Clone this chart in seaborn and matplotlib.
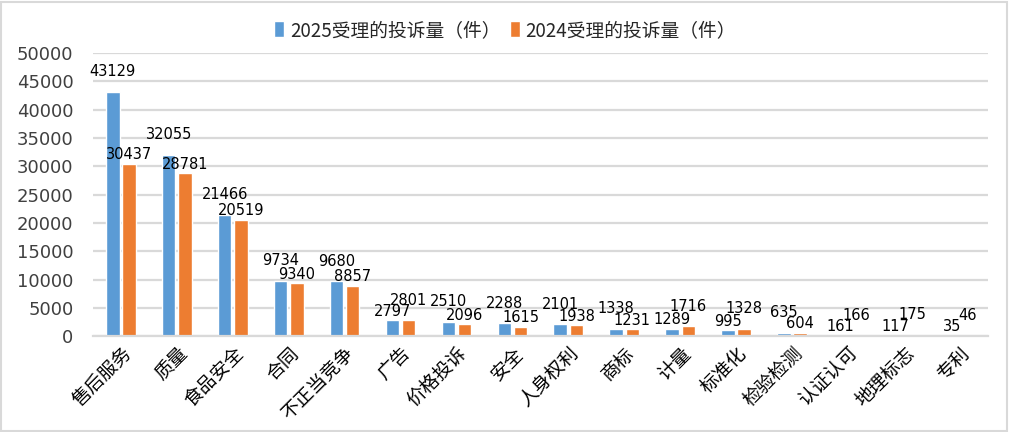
import pandas as pd
import matplotlib.pyplot as plt
import matplotlib.patches as mpatches
import seaborn as sns

# data
CATEGORIES = ['售后服务', '质量', '食品安全', '合同', '不正当竞争', '广告', '价格投诉', '安全',
              '人身权利', '商标', '计量', '标准化', '检验检测', '认证认可', '地理标志', '专利']
COUNT_2025 = [43129, 32055, 21466, 9734, 9680, 2797, 2510, 2288,
              2101, 1338, 1289, 995, 635, 161, 117, 35]
COUNT_2024 = [30437, 28781, 20519, 9340, 8857, 2801, 2096, 1615,
              1938, 1231, 1716, 1328, 604, 166, 175, 46]
SERIES = ['2025受理的投诉量（件）', '2024受理的投诉量（件）']
Y_TICKS = list(range(0, 50001, 5000))

COLORS = ['#5B9BD5', '#ED7D31']
GRID = '#D9D9D9'
CJK = ['Noto Sans CJK SC', 'DejaVu Sans']

sns.set_theme(style='white')
plt.rcParams['font.family'] = ['DejaVu Sans', 'Noto Sans CJK SC']

df = pd.DataFrame({
    'category': CATEGORIES * 2,
    'value': COUNT_2025 + COUNT_2024,
    'series': [SERIES[0]] * len(CATEGORIES) + [SERIES[1]] * len(CATEGORIES),
})

fig = plt.figure(figsize=(10.1, 4.32), dpi=100)
ax = fig.add_axes([0.092, 0.222, 0.886, 0.655])

sns.barplot(data=df, x='category', y='value', hue='series', palette=COLORS,
            width=0.58, gap=0.17, saturation=1, ax=ax, legend=True)

ax.set_xlim(-0.5, len(CATEGORIES) - 0.5)
ax.set_ylim(0, 50000)
ax.set_yticks(Y_TICKS)
ax.set_yticklabels([str(t) for t in Y_TICKS], fontsize=13, color='#404040')
ax.tick_params(axis='y', length=0, pad=14)
ax.tick_params(axis='x', length=0, pad=5)
ax.set_xticks(range(len(CATEGORIES)))
ax.set_xticklabels(CATEGORIES, rotation=45, ha='right', rotation_mode='anchor',
                   fontsize=13.5, family=CJK, color='#000000')
ax.set_xlabel('')
ax.set_ylabel('')
ax.grid(axis='y', color=GRID, linewidth=1.6)
ax.set_axisbelow(True)
for side in ['top', 'right', 'left']:
    ax.spines[side].set_visible(False)
ax.spines['bottom'].set_color(GRID)
ax.spines['bottom'].set_linewidth(1.6)

# value labels: the taller bar of each pair gets its label lifted higher
bars_a, bars_b = ax.containers[0], ax.containers[1]
for pa, pb in zip(bars_a, bars_b):
    ha_, hb_ = pa.get_height(), pb.get_height()
    for p, h, other in [(pa, ha_, hb_), (pb, hb_, ha_)]:
        off = 14.5 if h >= other else 6.5
        ax.annotate(f'{int(h)}', xy=(p.get_x() + p.get_width() / 2, h),
                    xytext=(0, off), textcoords='offset points',
                    ha='center', va='center', fontsize=10.5, color='#000000')

handles, labels = ax.get_legend_handles_labels()
ax.get_legend().remove()
fig.legend(handles, labels, loc='center', bbox_to_anchor=(0.5, 0.93), ncol=2,
           frameon=False, handlelength=0.55, handleheight=0.9, handletextpad=0.3,
           columnspacing=0.5, prop={'family': CJK, 'size': 13.5})

fig.patches.append(mpatches.Rectangle((0.001, 0.002), 0.996, 0.994, transform=fig.transFigure,
                                      fill=False, edgecolor=GRID, linewidth=1.5))

fig.savefig('out.png', dpi=100)
